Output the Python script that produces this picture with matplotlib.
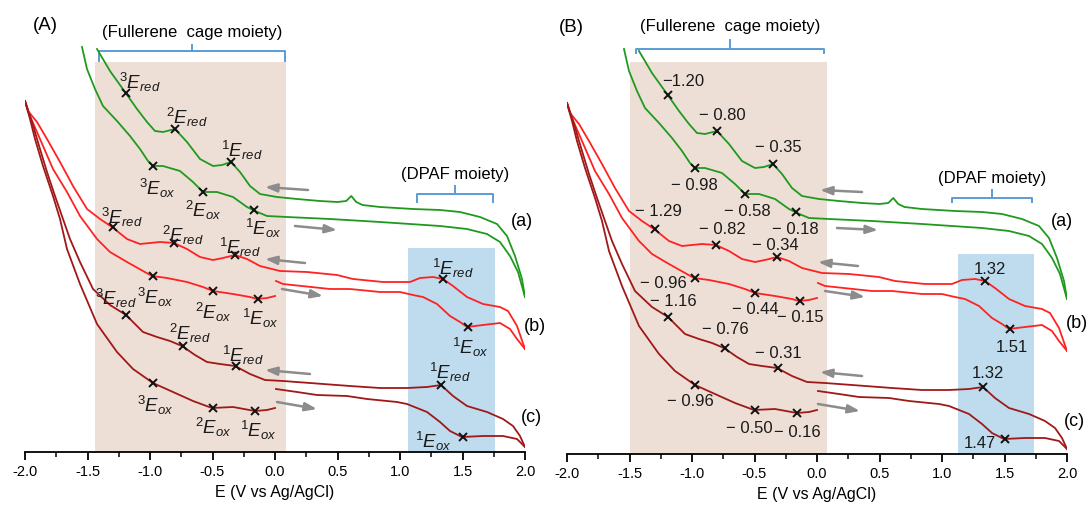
import matplotlib
matplotlib.use('Agg')
import matplotlib.pyplot as plt

plt.rcParams['font.family'] = ['Liberation Sans', 'DejaVu Sans']
plt.rcParams['mathtext.fontset'] = 'custom'
plt.rcParams['mathtext.rm'] = 'Liberation Sans'
plt.rcParams['mathtext.it'] = 'Liberation Sans:italic'

# potential E (V vs Ag/AgCl) and current (a.u., traces stacked)
# (a) green trace
a_red_E = [-1.424, -1.32, -1.20, -1.104, -1.024, -0.96, -0.896, -0.80, -0.704, -0.60, -0.496, -0.424,
           -0.352, -0.28, -0.20, -0.12, 0.016, 0.176, 0.36, 0.50, 0.57, 0.61, 0.65, 0.70, 0.84, 1.104,
           1.32, 1.48, 1.64, 1.776, 1.856, 1.92, 1.976, 2.0]
a_red_I = [403, 381, 360, 343, 330, 321, 320, 323, 310, 293, 286, 287,
           290, 280, 266, 258, 255, 253, 251, 250, 251, 256, 250, 247, 245, 243,
           242, 240, 235, 228, 216, 196, 173, 155]
a_ox_E = [-1.544, -1.504, -1.44, -1.376, -1.264, -1.16, -1.08, -1.016, -0.976, -0.896, -0.76, -0.656,
          -0.576, -0.464, -0.336, -0.224, -0.16, -0.064, 0.096, 0.44, 0.84, 1.32, 1.536, 1.696, 1.8,
          1.88, 1.944, 2.0]
a_ox_I = [405, 383, 363, 346, 331, 316, 303, 291, 286, 286, 281, 270,
          260, 260, 255, 245, 241, 236, 235, 233, 230, 226, 223, 218, 210,
          196, 180, 155]

# (b) red trace
b_red_E = [-2.0, -1.976, -1.904, -1.824, -1.72, -1.616, -1.504, -1.40, -1.304, -1.184, -1.08, -0.92,
           -0.808, -0.704, -0.60, -0.496, -0.416, -0.32, -0.224, -0.12, 0.04, 0.256, 0.496, 0.624,
           0.864, 1.08, 1.16, 1.264, 1.344, 1.424, 1.536, 1.664, 1.80, 1.864, 1.936, 2.0]
b_red_I = [351, 341, 330, 313, 290, 266, 243, 233, 225, 213, 208, 210,
           209, 203, 195, 192, 194, 197, 193, 186, 181, 180, 177, 173,
           170, 170, 174, 175, 173, 166, 155, 148, 145, 141, 126, 103]
b_ox_E = [-2.0, -1.96, -1.88, -1.776, -1.664, -1.56, -1.424, -1.32, -1.184, -1.056, -0.984, -0.864,
          -0.704, -0.576, -0.496, -0.336, -0.20, -0.144, -0.064, 0.0]
b_ox_I = [351, 336, 313, 283, 260, 236, 213, 200, 190, 181, 176, 174,
          170, 165, 161, 158, 155, 153, 154, 156]
b_ox2_E = [0.008, 0.064, 0.44, 0.60, 0.84, 1.0, 1.104, 1.184, 1.296, 1.40, 1.48, 1.536,
           1.664, 1.80, 1.88, 1.936, 2.0]
b_ox2_I = [171, 168, 163, 163, 160, 160, 157, 155, 148, 136, 130, 125,
           127, 129, 123, 113, 103]

# (c) dark red trace
c_red_E = [-2.0, -1.944, -1.88, -1.824, -1.76, -1.696, -1.64, -1.56, -1.456, -1.32, -1.192, -1.136,
           -1.056, -0.944, -0.84, -0.744, -0.64, -0.544, -0.44, -0.32, -0.20, -0.08, 0.064, 0.28,
           0.60, 0.84, 1.056, 1.216, 1.328, 1.424, 1.536, 1.696, 1.824, 1.904, 1.96, 2.0]
c_red_I = [351, 330, 303, 280, 256, 233, 213, 190, 163, 147, 137, 130,
           120, 115, 111, 106, 97, 90, 88, 86, 78, 72, 71, 69,
           66, 64, 64, 65, 67, 56, 46, 40, 33, 26, 16, 5]
c_ox_E = [-2.0, -1.96, -1.92, -1.856, -1.776, -1.72, -1.664, -1.56, -1.424, -1.264, -1.136, -0.976,
          -0.816, -0.656, -0.504, -0.336, -0.16, -0.064, 0.0]
c_ox_I = [351, 333, 313, 286, 256, 233, 203, 168, 128, 100, 83, 69,
          60, 51, 44, 45, 41, 42, 44]
c_ox2_E = [0.008, 0.176, 0.336, 0.576, 0.736, 0.976, 1.056, 1.216, 1.32, 1.40, 1.496, 1.664,
           1.824, 1.936, 2.0]
c_ox2_I = [63, 60, 57, 56, 53, 50, 48, 40, 30, 21, 15, 16,
           16, 13, 5]

# marked peak potentials (3red, 2red, 1red, [DPAF red], 3ox, 2ox, 1ox, [DPAF ox])
a_pk_E = [-1.19, -0.80, -0.35, -0.98, -0.58, -0.17]
a_pk_I = [359, 323, 290, 286, 260, 242]
b_pk_E = [-1.30, -0.81, -0.32, 1.34, -0.98, -0.50, -0.14, 1.54]
b_pk_I = [225, 209, 197, 173, 176, 161, 153, 125]
c_pk_E = [-1.19, -0.74, -0.31, 1.33, -0.98, -0.50, -0.16, 1.50]
c_pk_I = [137, 106, 86, 67, 69, 44, 41, 15]

a_sym = ['3red', '2red', '1red', '3ox', '2ox', '1ox']
bc_sym = ['3red', '2red', '1red', '1red', '3ox', '2ox', '1ox', '1ox']
a_vals = ['\u22121.20', '\u2212 0.80', '\u2212 0.35', '\u2212 0.98', '\u2212 0.58', '\u2212 0.18']
b_vals = ['\u2212 1.29', '\u2212 0.82', '\u2212 0.34', '1.32', '\u2212 0.96', '\u2212 0.44', '\u2212 0.15', '1.51']
c_vals = ['\u2212 1.16', '\u2212 0.76', '\u2212 0.31', '1.32', '\u2212 0.96', '\u2212 0.50', '\u2212 0.16', '1.47']

ticks = [-2.0, -1.5, -1.0, -0.5, 0.0, 0.5, 1.0, 1.5, 2.0]
tick_labels = ['-2.0', '-1.5', '-1.0', '-0.5', '0.0', '0.5', '1.0', '1.5', '2.0']

GREEN = '#1f9a1f'
RED = '#ff2222'
DRED = '#a01818'
BRACE = '#5b9bd5'
ARROW = '#8c8c8c'


def sym_text(s):
    return r'$^{%s}E_{%s}$' % (s[0], s[1:])


def label_fs(t):
    return 13.5 if t.startswith('$') else 12


def draw_panel(ax, tag, shade, blue, brace1, brace2, label_pos, arrows, labels, ypos_tag):
    ax.set_xlim(-2.0, 2.0)
    ax.set_ylim(0, 453)
    for s in ['top', 'left', 'right']:
        ax.spines[s].set_visible(False)
    ax.spines['bottom'].set_linewidth(1.3)
    ax.set_yticks([])
    ax.set_xticks(ticks)
    ax.set_xticklabels(tick_labels)
    ax.set_xticks([-1.75, -1.25, -0.75, -0.25, 0.25, 0.75, 1.25, 1.75], minor=True)
    ax.tick_params(axis='x', which='major', length=6, width=1.3, labelsize=10.5, pad=3)
    ax.tick_params(axis='x', which='minor', length=3.5, width=1.1)
    ax.set_xlabel('E (V vs Ag/AgCl)', fontsize=11.5, labelpad=4)
    ax.patch.set_visible(False)

    ax.axvspan(shade[0], shade[1], ymin=0, ymax=shade[2] / 453, color='#eddfd6', lw=0, zorder=0)
    ax.axvspan(blue[0], blue[1], ymin=0, ymax=blue[2] / 453, color='#bedcee', lw=0, zorder=0)

    # braces
    for (x0, x1, xc, yh, ye, yt) in [brace1, brace2]:
        ax.plot([x0, x0, x1, x1], [ye, yh, yh, ye], color=BRACE, lw=1.4, clip_on=False)
        ax.plot([xc, xc], [yh, yt], color=BRACE, lw=1.4, clip_on=False)

    ax.plot(a_red_E, a_red_I, color=GREEN, lw=1.3)
    ax.plot(a_ox_E, a_ox_I, color=GREEN, lw=1.3)
    ax.plot(b_red_E, b_red_I, color=RED, lw=1.3)
    ax.plot(b_ox_E, b_ox_I, color=RED, lw=1.3)
    ax.plot(b_ox2_E, b_ox2_I, color=RED, lw=1.3)
    ax.plot(c_red_E, c_red_I, color=DRED, lw=1.3)
    ax.plot(c_ox_E, c_ox_I, color=DRED, lw=1.3)
    ax.plot(c_ox2_E, c_ox2_I, color=DRED, lw=1.3)
    for pe, pi in [(a_pk_E, a_pk_I), (b_pk_E, b_pk_I), (c_pk_E, c_pk_I)]:
        ax.plot(pe, pi, 'x', color='#111111', ms=6, mew=1.4, ls='none')

    for (x0, y0, x1, y1) in arrows:
        ax.annotate('', xy=(x1, y1), xytext=(x0, y0),
                    arrowprops=dict(arrowstyle='-|>,head_length=0.7,head_width=0.25',
                                    color=ARROW, lw=1.8, shrinkA=0, shrinkB=0))

    for txts, poss in zip(labels, label_pos):
        for t, (x, y) in zip(txts, poss):
            ax.text(x, y, t, ha='center', va='center', fontsize=label_fs(t), color='#1a1a1a')

    ax.text(tag[1], tag[2], tag[0], ha='center', va='center', fontsize=13.5)
    ax.text(brace1[2], brace1[5] + 14, '(Fullerene  cage moiety)', ha='center', va='center', fontsize=12)
    ax.text(brace2[2], brace2[5] + 12, '(DPAF moiety)', ha='center', va='center', fontsize=12)
    for t, (x, y) in zip(['(a)', '(b)', '(c)'], ypos_tag):
        ax.text(x, y, t, ha='center', va='center', fontsize=13, clip_on=False)


fig = plt.figure(figsize=(10.88, 5.06), dpi=100)
axA = fig.add_axes([25 / 1088, 53 / 506, 500 / 1088, 453 / 506])
axB = fig.add_axes([567 / 1088, 51 / 506, 500 / 1088, 453 / 506])

posA = [
    [(-1.08, 371), (-0.704, 336), (-0.264, 303), (-0.944, 265), (-0.576, 243), (-0.09, 225)],
    [(-1.224, 236), (-0.736, 218), (-0.28, 206), (1.424, 185), (-0.96, 156), (-0.496, 141), (-0.12, 135), (1.56, 106)],
    [(-1.275, 155), (-0.68, 120), (-0.256, 98), (1.40, 81), (-0.96, 48), (-0.496, 26), (-0.136, 23), (1.264, 12)],
]
posB = [
    [(-1.072, 373), (-0.76, 340), (-0.312, 307), (-0.984, 270), (-0.56, 243), (-0.176, 226)],
    [(-1.272, 243), (-0.76, 225), (-0.336, 210), (1.384, 186), (-1.232, 172), (-0.496, 145), (-0.136, 138), (1.56, 108)],
    [(-1.152, 153), (-0.736, 125), (-0.312, 101), (1.368, 82), (-1.016, 53), (-0.544, 26), (-0.16, 22), (1.304, 11)],
]
arrowsA = [(0.264, 262, -0.08, 265), (0.16, 226, 0.496, 222), (0.24, 189, -0.08, 193),
           (0.056, 163, 0.384, 156), (0.28, 78, -0.08, 82), (0.016, 50, 0.336, 43)]
arrowsB = [(0.36, 262, 0.024, 264), (0.16, 226, 0.488, 224), (0.328, 188, 0.008, 192),
           (0.064, 163, 0.384, 157), (0.36, 78, 0.024, 82), (0.008, 50, 0.344, 43)]

draw_panel(axA, ('(A)', -1.84, 428), (-1.44, 0.088, 390), (1.064, 1.76, 204),
           (-1.408, 0.08, -0.664, 401, 391, 407), (1.136, 1.744, 1.44, 258, 250, 266),
           posA, arrowsA,
           [[sym_text(s) for s in a_sym], [sym_text(s) for s in bc_sym], [sym_text(s) for s in bc_sym]],
           [(1.976, 231), (2.08, 126), (2.05, 35)])
draw_panel(axB, ('(B)', -1.968, 428), (-1.50, 0.08, 392), (1.128, 1.736, 200),
           (-1.448, 0.056, -0.696, 405, 401, 414), (1.08, 1.72, 1.40, 256, 252, 264),
           posB, arrowsB, [a_vals, b_vals, c_vals],
           [(1.96, 233), (2.08, 131), (2.06, 33)])

plt.savefig('out.png', dpi=100)
